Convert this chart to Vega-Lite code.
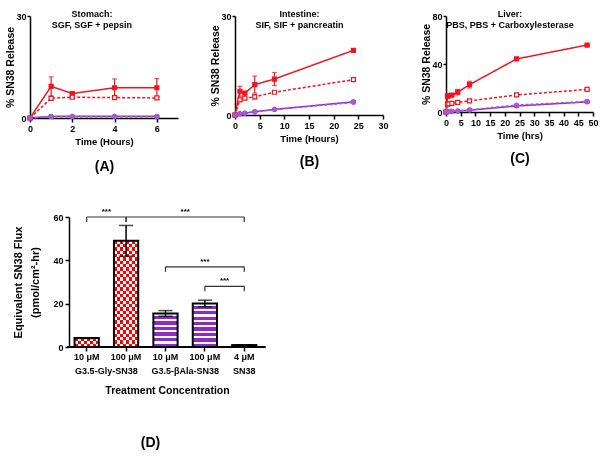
{
  "$schema": "https://vega.github.io/schema/vega-lite/v6.json",
  "background": "white",
  "padding": {"left": 5, "top": 10, "right": 2, "bottom": 2},
  "datasets": {
    "stomach": [
      {"time": 0, "series": "Gly-SN38 + enzyme", "release": 0, "sd": 0},
      {"time": 1, "series": "Gly-SN38 + enzyme", "release": 9.3, "sd": 2.8},
      {"time": 2, "series": "Gly-SN38 + enzyme", "release": 7.2, "sd": 0.4},
      {"time": 4, "series": "Gly-SN38 + enzyme", "release": 8.9, "sd": 2.6},
      {"time": 6, "series": "Gly-SN38 + enzyme", "release": 8.9, "sd": 2.7},
      {"time": 0, "series": "Gly-SN38", "release": 0, "sd": 0},
      {"time": 1, "series": "Gly-SN38", "release": 5.8, "sd": 0.4},
      {"time": 2, "series": "Gly-SN38", "release": 6.1, "sd": 0.3},
      {"time": 4, "series": "Gly-SN38", "release": 6.0, "sd": 0.3},
      {"time": 6, "series": "Gly-SN38", "release": 5.9, "sd": 0.4},
      {"time": 0, "series": "βAla-SN38 + enzyme", "release": 0, "sd": 0},
      {"time": 1, "series": "βAla-SN38 + enzyme", "release": 0.5, "sd": 0.1},
      {"time": 2, "series": "βAla-SN38 + enzyme", "release": 0.5, "sd": 0.1},
      {"time": 4, "series": "βAla-SN38 + enzyme", "release": 0.5, "sd": 0.1},
      {"time": 6, "series": "βAla-SN38 + enzyme", "release": 0.5, "sd": 0.1},
      {"time": 0, "series": "βAla-SN38", "release": 0, "sd": 0},
      {"time": 1, "series": "βAla-SN38", "release": 0.4, "sd": 0.1},
      {"time": 2, "series": "βAla-SN38", "release": 0.4, "sd": 0.1},
      {"time": 4, "series": "βAla-SN38", "release": 0.4, "sd": 0.1},
      {"time": 6, "series": "βAla-SN38", "release": 0.4, "sd": 0.1}
    ],
    "intestine": [
      {"time": 0, "series": "Gly-SN38 + enzyme", "release": 0, "sd": 0},
      {"time": 1, "series": "Gly-SN38 + enzyme", "release": 7.2, "sd": 1.5},
      {"time": 2, "series": "Gly-SN38 + enzyme", "release": 6.6, "sd": 0.4},
      {"time": 4, "series": "Gly-SN38 + enzyme", "release": 9.2, "sd": 2.6},
      {"time": 8, "series": "Gly-SN38 + enzyme", "release": 10.9, "sd": 2.0},
      {"time": 24, "series": "Gly-SN38 + enzyme", "release": 19.6, "sd": 0.3},
      {"time": 0, "series": "Gly-SN38", "release": 0, "sd": 0},
      {"time": 1, "series": "Gly-SN38", "release": 4.6, "sd": 0.5},
      {"time": 2, "series": "Gly-SN38", "release": 5.1, "sd": 0.3},
      {"time": 4, "series": "Gly-SN38", "release": 5.5, "sd": 0.6},
      {"time": 8, "series": "Gly-SN38", "release": 6.9, "sd": 0.3},
      {"time": 24, "series": "Gly-SN38", "release": 10.7, "sd": 0.4},
      {"time": 0, "series": "βAla-SN38 + enzyme", "release": 0, "sd": 0},
      {"time": 1, "series": "βAla-SN38 + enzyme", "release": 0.4, "sd": 0.1},
      {"time": 2, "series": "βAla-SN38 + enzyme", "release": 0.6, "sd": 0.1},
      {"time": 4, "series": "βAla-SN38 + enzyme", "release": 1.0, "sd": 0.2},
      {"time": 8, "series": "βAla-SN38 + enzyme", "release": 1.7, "sd": 0.2},
      {"time": 24, "series": "βAla-SN38 + enzyme", "release": 4.0, "sd": 0.4},
      {"time": 0, "series": "βAla-SN38", "release": 0, "sd": 0},
      {"time": 1, "series": "βAla-SN38", "release": 0.3, "sd": 0.1},
      {"time": 2, "series": "βAla-SN38", "release": 0.5, "sd": 0.1},
      {"time": 4, "series": "βAla-SN38", "release": 0.9, "sd": 0.1},
      {"time": 8, "series": "βAla-SN38", "release": 1.6, "sd": 0.2},
      {"time": 24, "series": "βAla-SN38", "release": 3.8, "sd": 0.3}
    ],
    "liver": [
      {"time": 0, "series": "Gly-SN38 + enzyme", "release": 0, "sd": 0},
      {"time": 0.5, "series": "Gly-SN38 + enzyme", "release": 13.2, "sd": 0.5},
      {"time": 1, "series": "Gly-SN38 + enzyme", "release": 13.5, "sd": 0.5},
      {"time": 2, "series": "Gly-SN38 + enzyme", "release": 14.0, "sd": 0.5},
      {"time": 4, "series": "Gly-SN38 + enzyme", "release": 16.5, "sd": 2.2},
      {"time": 8, "series": "Gly-SN38 + enzyme", "release": 22.8, "sd": 2.8},
      {"time": 24, "series": "Gly-SN38 + enzyme", "release": 44.2, "sd": 0.6},
      {"time": 48, "series": "Gly-SN38 + enzyme", "release": 55.8, "sd": 0.6},
      {"time": 0, "series": "Gly-SN38", "release": 0, "sd": 0},
      {"time": 0.5, "series": "Gly-SN38", "release": 6.5, "sd": 1.2},
      {"time": 1, "series": "Gly-SN38", "release": 6.8, "sd": 1.0},
      {"time": 2, "series": "Gly-SN38", "release": 7.2, "sd": 0.5},
      {"time": 4, "series": "Gly-SN38", "release": 8.0, "sd": 0.5},
      {"time": 8, "series": "Gly-SN38", "release": 9.2, "sd": 0.6},
      {"time": 24, "series": "Gly-SN38", "release": 14.2, "sd": 0.6},
      {"time": 48, "series": "Gly-SN38", "release": 18.8, "sd": 0.6},
      {"time": 0, "series": "βAla-SN38 + enzyme", "release": 0, "sd": 0},
      {"time": 0.5, "series": "βAla-SN38 + enzyme", "release": 0.2, "sd": 0},
      {"time": 1, "series": "βAla-SN38 + enzyme", "release": 0.3, "sd": 0},
      {"time": 2, "series": "βAla-SN38 + enzyme", "release": 0.5, "sd": 0},
      {"time": 4, "series": "βAla-SN38 + enzyme", "release": 0.8, "sd": 0.1},
      {"time": 8, "series": "βAla-SN38 + enzyme", "release": 1.5, "sd": 0.2},
      {"time": 24, "series": "βAla-SN38 + enzyme", "release": 5.0, "sd": 0.8},
      {"time": 48, "series": "βAla-SN38 + enzyme", "release": 8.4, "sd": 0.8},
      {"time": 0, "series": "βAla-SN38", "release": 0, "sd": 0},
      {"time": 0.5, "series": "βAla-SN38", "release": 0.3, "sd": 0},
      {"time": 1, "series": "βAla-SN38", "release": 0.4, "sd": 0},
      {"time": 2, "series": "βAla-SN38", "release": 0.6, "sd": 0},
      {"time": 4, "series": "βAla-SN38", "release": 1.0, "sd": 0.1},
      {"time": 8, "series": "βAla-SN38", "release": 1.8, "sd": 0.2},
      {"time": 24, "series": "βAla-SN38", "release": 5.8, "sd": 0.5},
      {"time": 48, "series": "βAla-SN38", "release": 8.8, "sd": 0.5}
    ],
    "flux": [
      {"treatment": "G3.5-Gly-SN38 10 μM", "flux": 4.1, "err": 0.15},
      {"treatment": "G3.5-Gly-SN38 100 μM", "flux": 49.0, "err": 7.1},
      {"treatment": "G3.5-βAla-SN38 10 μM", "flux": 15.5, "err": 1.3},
      {"treatment": "G3.5-βAla-SN38 100 μM", "flux": 20.1, "err": 1.5},
      {"treatment": "SN38 4 μM", "flux": 0.9, "err": 0.1}
    ],
    "sig": [
      {"from": "G3.5-Gly-SN38 10 μM", "to": "G3.5-Gly-SN38 100 μM", "level": 60, "label": "***"},
      {"from": "G3.5-Gly-SN38 100 μM", "to": "SN38 4 μM", "level": 60, "label": "***"},
      {"from": "G3.5-βAla-SN38 10 μM", "to": "SN38 4 μM", "level": 37, "label": "***"},
      {"from": "G3.5-βAla-SN38 100 μM", "to": "SN38 4 μM", "level": 28, "label": "***"}
    ]
  },
  "vconcat": [
    {
      "hconcat": [
        {
          "width": 148, "height": 102,
          "data": {"name": "stomach"},
          "title": {"text": ["Stomach:", "SGF, SGF + pepsin"]},
          "layer": [
            {
              "mark": {"type": "line", "strokeWidth": 1.5},
              "encoding": {
                "x": {"field": "time", "type": "quantitative", "scale": {"domain": [0, 7]}, "axis": {"title": "Time (Hours)", "values": [0, 2, 4, 6]}},
                "y": {"field": "release", "type": "quantitative", "scale": {"domain": [0, 30]}, "axis": {"title": "% SN38 Release", "values": [0, 10, 20, 30], "tickSize": 3, "labelPadding": 1, "titlePadding": 0}},
                "color": {"field": "series", "type": "nominal", "scale": {"domain": ["Gly-SN38 + enzyme", "Gly-SN38", "βAla-SN38 + enzyme", "βAla-SN38"], "range": ["#F0141E", "#F0141E", "#8E2BC2", "#A65AD6"]}, "legend": null},
                "strokeDash": {"field": "series", "type": "nominal", "scale": {"domain": ["Gly-SN38 + enzyme", "Gly-SN38", "βAla-SN38 + enzyme", "βAla-SN38"], "range": [[1, 0], [3, 2], [1, 0], [3, 2]]}, "legend": null}
              }
            },
            {
              "transform": [{"filter": "datum.sd > 0"}],
              "mark": {"type": "errorbar", "ticks": {"size": 5}, "thickness": 1.2},
              "encoding": {
                "x": {"field": "time", "type": "quantitative", "scale": {"domain": [0, 7]}, "axis": null},
                "y": {"field": "release", "type": "quantitative", "scale": {"domain": [0, 30]}, "title": "% SN38 Release"},
                "yError": {"field": "sd"},
                "color": {"field": "series", "type": "nominal", "legend": null}
              }
            },
            {
              "mark": {"type": "point", "size": 16, "opacity": 1, "strokeWidth": 1.2},
              "encoding": {
                "x": {"field": "time", "type": "quantitative", "scale": {"domain": [0, 7]}, "axis": {"orient": "bottom", "title": "(A)", "labels": false, "ticks": false, "domain": false, "titleFontSize": 14, "titlePadding": 41}},
                "y": {"field": "release", "type": "quantitative", "scale": {"domain": [0, 30]}, "title": "% SN38 Release"},
                "shape": {"field": "series", "type": "nominal", "scale": {"domain": ["Gly-SN38 + enzyme", "Gly-SN38", "βAla-SN38 + enzyme", "βAla-SN38"], "range": ["square", "square", "circle", "circle"]}, "legend": null},
                "fill": {"field": "series", "type": "nominal", "scale": {"domain": ["Gly-SN38 + enzyme", "Gly-SN38", "βAla-SN38 + enzyme", "βAla-SN38"], "range": ["#F0141E", "#ffffff", "#8E2BC2", "#A65AD6"]}, "legend": null},
                "stroke": {"field": "series", "type": "nominal", "scale": {"domain": ["Gly-SN38 + enzyme", "Gly-SN38", "βAla-SN38 + enzyme", "βAla-SN38"], "range": ["#F0141E", "#F0141E", "#8E2BC2", "#A65AD6"]}, "legend": null}
              }
            }
          ],
          "resolve": {"axis": {"x": "independent"}}
        },
        {
          "width": 148, "height": 99,
          "data": {"name": "intestine"},
          "title": {"text": ["Intestine:", "SIF, SIF + pancreatin"]},
          "layer": [
            {
              "mark": {"type": "line", "strokeWidth": 1.5},
              "encoding": {
                "x": {"field": "time", "type": "quantitative", "scale": {"domain": [0, 30]}, "axis": {"title": "Time (Hours)", "values": [0, 5, 10, 15, 20, 25, 30]}},
                "y": {"field": "release", "type": "quantitative", "scale": {"domain": [0, 30]}, "axis": {"title": "% SN38 Release", "values": [0, 10, 20, 30], "tickSize": 3, "labelPadding": 1, "titlePadding": 0}},
                "color": {"field": "series", "type": "nominal", "scale": {"domain": ["Gly-SN38 + enzyme", "Gly-SN38", "βAla-SN38 + enzyme", "βAla-SN38"], "range": ["#F0141E", "#F0141E", "#8E2BC2", "#A65AD6"]}, "legend": null},
                "strokeDash": {"field": "series", "type": "nominal", "scale": {"domain": ["Gly-SN38 + enzyme", "Gly-SN38", "βAla-SN38 + enzyme", "βAla-SN38"], "range": [[1, 0], [3, 2], [1, 0], [3, 2]]}, "legend": null}
              }
            },
            {
              "transform": [{"filter": "datum.sd > 0"}],
              "mark": {"type": "errorbar", "ticks": {"size": 5}, "thickness": 1.2},
              "encoding": {
                "x": {"field": "time", "type": "quantitative", "scale": {"domain": [0, 30]}, "axis": null},
                "y": {"field": "release", "type": "quantitative", "scale": {"domain": [0, 30]}, "title": "% SN38 Release"},
                "yError": {"field": "sd"},
                "color": {"field": "series", "type": "nominal", "legend": null}
              }
            },
            {
              "mark": {"type": "point", "size": 16, "opacity": 1, "strokeWidth": 1.2},
              "encoding": {
                "x": {"field": "time", "type": "quantitative", "scale": {"domain": [0, 30]}, "axis": {"orient": "bottom", "title": "(B)", "labels": false, "ticks": false, "domain": false, "titleFontSize": 14, "titlePadding": 39}},
                "y": {"field": "release", "type": "quantitative", "scale": {"domain": [0, 30]}, "title": "% SN38 Release"},
                "shape": {"field": "series", "type": "nominal", "scale": {"domain": ["Gly-SN38 + enzyme", "Gly-SN38", "βAla-SN38 + enzyme", "βAla-SN38"], "range": ["square", "square", "circle", "circle"]}, "legend": null},
                "fill": {"field": "series", "type": "nominal", "scale": {"domain": ["Gly-SN38 + enzyme", "Gly-SN38", "βAla-SN38 + enzyme", "βAla-SN38"], "range": ["#F0141E", "#ffffff", "#8E2BC2", "#A65AD6"]}, "legend": null},
                "stroke": {"field": "series", "type": "nominal", "scale": {"domain": ["Gly-SN38 + enzyme", "Gly-SN38", "βAla-SN38 + enzyme", "βAla-SN38"], "range": ["#F0141E", "#F0141E", "#8E2BC2", "#A65AD6"]}, "legend": null}
              }
            }
          ],
          "resolve": {"axis": {"x": "independent"}}
        },
        {
          "width": 147, "height": 96,
          "data": {"name": "liver"},
          "title": {"text": ["Liver:", "PBS, PBS + Carboxylesterase"]},
          "layer": [
            {
              "mark": {"type": "line", "strokeWidth": 1.5},
              "encoding": {
                "x": {"field": "time", "type": "quantitative", "scale": {"domain": [0, 50]}, "axis": {"title": "Time (hrs)", "values": [0, 5, 10, 15, 20, 25, 30, 35, 40, 45, 50]}},
                "y": {"field": "release", "type": "quantitative", "scale": {"domain": [0, 80]}, "axis": {"title": "% SN38 Release", "values": [0, 20, 40, 60, 80], "tickSize": 3, "labelPadding": 1, "titlePadding": 0}},
                "color": {"field": "series", "type": "nominal", "scale": {"domain": ["Gly-SN38 + enzyme", "Gly-SN38", "βAla-SN38 + enzyme", "βAla-SN38"], "range": ["#F0141E", "#F0141E", "#8E2BC2", "#A65AD6"]}, "legend": null},
                "strokeDash": {"field": "series", "type": "nominal", "scale": {"domain": ["Gly-SN38 + enzyme", "Gly-SN38", "βAla-SN38 + enzyme", "βAla-SN38"], "range": [[1, 0], [3, 2], [1, 0], [3, 2]]}, "legend": null}
              }
            },
            {
              "transform": [{"filter": "datum.sd > 0"}],
              "mark": {"type": "errorbar", "ticks": {"size": 5}, "thickness": 1.2},
              "encoding": {
                "x": {"field": "time", "type": "quantitative", "scale": {"domain": [0, 50]}, "axis": null},
                "y": {"field": "release", "type": "quantitative", "scale": {"domain": [0, 80]}, "title": "% SN38 Release"},
                "yError": {"field": "sd"},
                "color": {"field": "series", "type": "nominal", "legend": null}
              }
            },
            {
              "mark": {"type": "point", "size": 16, "opacity": 1, "strokeWidth": 1.2},
              "encoding": {
                "x": {"field": "time", "type": "quantitative", "scale": {"domain": [0, 50]}, "axis": {"orient": "bottom", "title": "(C)", "labels": false, "ticks": false, "domain": false, "titleFontSize": 14, "titlePadding": 39}},
                "y": {"field": "release", "type": "quantitative", "scale": {"domain": [0, 80]}, "title": "% SN38 Release"},
                "shape": {"field": "series", "type": "nominal", "scale": {"domain": ["Gly-SN38 + enzyme", "Gly-SN38", "βAla-SN38 + enzyme", "βAla-SN38"], "range": ["square", "square", "circle", "circle"]}, "legend": null},
                "fill": {"field": "series", "type": "nominal", "scale": {"domain": ["Gly-SN38 + enzyme", "Gly-SN38", "βAla-SN38 + enzyme", "βAla-SN38"], "range": ["#F0141E", "#ffffff", "#8E2BC2", "#A65AD6"]}, "legend": null},
                "stroke": {"field": "series", "type": "nominal", "scale": {"domain": ["Gly-SN38 + enzyme", "Gly-SN38", "βAla-SN38 + enzyme", "βAla-SN38"], "range": ["#F0141E", "#F0141E", "#8E2BC2", "#A65AD6"]}, "legend": null}
              }
            }
          ],
          "resolve": {"axis": {"x": "independent"}}
        }
      ],
      "spacing": 32,
      "align": "none",
      "bounds": "full"
    },
    {
      "width": 235, "height": 130,
      "data": {"name": "flux"},
      "layer": [
        {
          "mark": {"type": "bar"},
          "encoding": {
            "x": {"field": "treatment", "type": "nominal", "sort": null, "scale": {"domain": ["G3.5-Gly-SN38 10 μM", "G3.5-Gly-SN38 100 μM", "G3.5-βAla-SN38 10 μM", "G3.5-βAla-SN38 100 μM", "SN38 4 μM"], "paddingInner": 0.385, "paddingOuter": 0.675, "align": 0.838}, "axis": {"title": null, "labelAngle": 0, "domain": false, "labelExpr": "slice(datum.value, indexof(datum.value, ' ') + 1)", "labelPadding": 1}},
            "y": {"field": "flux", "type": "quantitative", "scale": {"domain": [0, 60]}, "axis": {"title": ["Equivalent SN38 Flux", "(pmol/cm²-hr)"], "values": [0, 10, 20, 30, 40, 50, 60], "offset": -39, "titlePadding": 12, "titleLineHeight": 17, "titleFontSize": 11}},
            "fill": {
              "condition": [
                {"test": "datum.treatment === 'G3.5-Gly-SN38 10 μM'", "value": {"gradient": "linear", "x1": 0, "y1": 0, "x2": 0, "y2": 1, "stops": [
                  {"offset": 0, "color": "#ff0000"}, {"offset": 0.3333, "color": "#ff0000"},
                  {"offset": 0.3333, "color": "#ffffff"}, {"offset": 0.6667, "color": "#ffffff"},
                  {"offset": 0.6667, "color": "#ff0000"}, {"offset": 1, "color": "#ff0000"}]}},
                {"test": "datum.treatment === 'G3.5-Gly-SN38 100 μM'", "value": {"gradient": "linear", "x1": 0, "y1": 0, "x2": 0, "y2": 1, "stops": [
                  {"offset": 0, "color": "#ff0000"}, {"offset": 0.03125, "color": "#ff0000"},
                  {"offset": 0.03125, "color": "#ffffff"}, {"offset": 0.0625, "color": "#ffffff"},
                  {"offset": 0.0625, "color": "#ff0000"}, {"offset": 0.09375, "color": "#ff0000"},
                  {"offset": 0.09375, "color": "#ffffff"}, {"offset": 0.125, "color": "#ffffff"},
                  {"offset": 0.125, "color": "#ff0000"}, {"offset": 0.15625, "color": "#ff0000"},
                  {"offset": 0.15625, "color": "#ffffff"}, {"offset": 0.1875, "color": "#ffffff"},
                  {"offset": 0.1875, "color": "#ff0000"}, {"offset": 0.21875, "color": "#ff0000"},
                  {"offset": 0.21875, "color": "#ffffff"}, {"offset": 0.25, "color": "#ffffff"},
                  {"offset": 0.25, "color": "#ff0000"}, {"offset": 0.28125, "color": "#ff0000"},
                  {"offset": 0.28125, "color": "#ffffff"}, {"offset": 0.3125, "color": "#ffffff"},
                  {"offset": 0.3125, "color": "#ff0000"}, {"offset": 0.34375, "color": "#ff0000"},
                  {"offset": 0.34375, "color": "#ffffff"}, {"offset": 0.375, "color": "#ffffff"},
                  {"offset": 0.375, "color": "#ff0000"}, {"offset": 0.40625, "color": "#ff0000"},
                  {"offset": 0.40625, "color": "#ffffff"}, {"offset": 0.4375, "color": "#ffffff"},
                  {"offset": 0.4375, "color": "#ff0000"}, {"offset": 0.46875, "color": "#ff0000"},
                  {"offset": 0.46875, "color": "#ffffff"}, {"offset": 0.5, "color": "#ffffff"},
                  {"offset": 0.5, "color": "#ff0000"}, {"offset": 0.53125, "color": "#ff0000"},
                  {"offset": 0.53125, "color": "#ffffff"}, {"offset": 0.5625, "color": "#ffffff"},
                  {"offset": 0.5625, "color": "#ff0000"}, {"offset": 0.59375, "color": "#ff0000"},
                  {"offset": 0.59375, "color": "#ffffff"}, {"offset": 0.625, "color": "#ffffff"},
                  {"offset": 0.625, "color": "#ff0000"}, {"offset": 0.65625, "color": "#ff0000"},
                  {"offset": 0.65625, "color": "#ffffff"}, {"offset": 0.6875, "color": "#ffffff"},
                  {"offset": 0.6875, "color": "#ff0000"}, {"offset": 0.71875, "color": "#ff0000"},
                  {"offset": 0.71875, "color": "#ffffff"}, {"offset": 0.75, "color": "#ffffff"},
                  {"offset": 0.75, "color": "#ff0000"}, {"offset": 0.78125, "color": "#ff0000"},
                  {"offset": 0.78125, "color": "#ffffff"}, {"offset": 0.8125, "color": "#ffffff"},
                  {"offset": 0.8125, "color": "#ff0000"}, {"offset": 0.84375, "color": "#ff0000"},
                  {"offset": 0.84375, "color": "#ffffff"}, {"offset": 0.875, "color": "#ffffff"},
                  {"offset": 0.875, "color": "#ff0000"}, {"offset": 0.90625, "color": "#ff0000"},
                  {"offset": 0.90625, "color": "#ffffff"}, {"offset": 0.9375, "color": "#ffffff"},
                  {"offset": 0.9375, "color": "#ff0000"}, {"offset": 0.96875, "color": "#ff0000"},
                  {"offset": 0.96875, "color": "#ffffff"}, {"offset": 1, "color": "#ffffff"}]}},
                {"test": "datum.treatment === 'G3.5-βAla-SN38 10 μM'", "value": {"gradient": "linear", "x1": 0, "y1": 0, "x2": 0, "y2": 1, "stops": [
                  {"offset": 0, "color": "#ffffff"}, {"offset": 0.0667, "color": "#ffffff"},
                  {"offset": 0.0667, "color": "#8E2BC2"}, {"offset": 0.1667, "color": "#8E2BC2"},
                  {"offset": 0.1667, "color": "#ffffff"}, {"offset": 0.2333, "color": "#ffffff"},
                  {"offset": 0.2333, "color": "#8E2BC2"}, {"offset": 0.3333, "color": "#8E2BC2"},
                  {"offset": 0.3333, "color": "#ffffff"}, {"offset": 0.4, "color": "#ffffff"},
                  {"offset": 0.4, "color": "#8E2BC2"}, {"offset": 0.5, "color": "#8E2BC2"},
                  {"offset": 0.5, "color": "#ffffff"}, {"offset": 0.5667, "color": "#ffffff"},
                  {"offset": 0.5667, "color": "#8E2BC2"}, {"offset": 0.6667, "color": "#8E2BC2"},
                  {"offset": 0.6667, "color": "#ffffff"}, {"offset": 0.7333, "color": "#ffffff"},
                  {"offset": 0.7333, "color": "#8E2BC2"}, {"offset": 0.8333, "color": "#8E2BC2"},
                  {"offset": 0.8333, "color": "#ffffff"}, {"offset": 0.9, "color": "#ffffff"},
                  {"offset": 0.9, "color": "#8E2BC2"}, {"offset": 1, "color": "#8E2BC2"}]}},
                {"test": "datum.treatment === 'G3.5-βAla-SN38 100 μM'", "value": {"gradient": "linear", "x1": 0, "y1": 0, "x2": 0, "y2": 1, "stops": [
                  {"offset": 0, "color": "#ffffff"}, {"offset": 0.05, "color": "#ffffff"},
                  {"offset": 0.05, "color": "#8E2BC2"}, {"offset": 0.125, "color": "#8E2BC2"},
                  {"offset": 0.125, "color": "#ffffff"}, {"offset": 0.175, "color": "#ffffff"},
                  {"offset": 0.175, "color": "#8E2BC2"}, {"offset": 0.25, "color": "#8E2BC2"},
                  {"offset": 0.25, "color": "#ffffff"}, {"offset": 0.3, "color": "#ffffff"},
                  {"offset": 0.3, "color": "#8E2BC2"}, {"offset": 0.375, "color": "#8E2BC2"},
                  {"offset": 0.375, "color": "#ffffff"}, {"offset": 0.425, "color": "#ffffff"},
                  {"offset": 0.425, "color": "#8E2BC2"}, {"offset": 0.5, "color": "#8E2BC2"},
                  {"offset": 0.5, "color": "#ffffff"}, {"offset": 0.55, "color": "#ffffff"},
                  {"offset": 0.55, "color": "#8E2BC2"}, {"offset": 0.625, "color": "#8E2BC2"},
                  {"offset": 0.625, "color": "#ffffff"}, {"offset": 0.675, "color": "#ffffff"},
                  {"offset": 0.675, "color": "#8E2BC2"}, {"offset": 0.75, "color": "#8E2BC2"},
                  {"offset": 0.75, "color": "#ffffff"}, {"offset": 0.8, "color": "#ffffff"},
                  {"offset": 0.8, "color": "#8E2BC2"}, {"offset": 0.875, "color": "#8E2BC2"},
                  {"offset": 0.875, "color": "#ffffff"}, {"offset": 0.925, "color": "#ffffff"},
                  {"offset": 0.925, "color": "#8E2BC2"}, {"offset": 1, "color": "#8E2BC2"}]}}
              ],
              "value": "#000000"
            }
          }
        },
        {
          "transform": [{"filter": "indexof(datum.treatment, 'Gly') >= 0"}],
          "mark": {"type": "bar", "blend": "difference", "fill": {"gradient": "linear", "x1": 0, "y1": 0, "x2": 1, "y2": 0, "stops": [
            {"offset": 0, "color": "#000000"}, {"offset": 0.125, "color": "#000000"},
            {"offset": 0.125, "color": "#00ffff"}, {"offset": 0.25, "color": "#00ffff"},
            {"offset": 0.25, "color": "#000000"}, {"offset": 0.375, "color": "#000000"},
            {"offset": 0.375, "color": "#00ffff"}, {"offset": 0.5, "color": "#00ffff"},
            {"offset": 0.5, "color": "#000000"}, {"offset": 0.625, "color": "#000000"},
            {"offset": 0.625, "color": "#00ffff"}, {"offset": 0.75, "color": "#00ffff"},
            {"offset": 0.75, "color": "#000000"}, {"offset": 0.875, "color": "#000000"},
            {"offset": 0.875, "color": "#00ffff"}, {"offset": 1, "color": "#00ffff"}]}},
          "encoding": {
            "x": {"field": "treatment", "type": "nominal", "sort": null, "axis": null},
            "y": {"field": "flux", "type": "quantitative", "title": ["Equivalent SN38 Flux", "(pmol/cm²-hr)"]}
          }
        },
        {
          "mark": {"type": "bar", "fill": "transparent", "stroke": "#000000", "strokeWidth": 2},
          "encoding": {
            "x": {"field": "treatment", "type": "nominal", "sort": null, "axis": {"orient": "bottom", "title": "Treatment Concentration", "titleX": 137, "labelAngle": 0, "domain": false, "ticks": false, "labelPadding": 19.5, "titlePadding": 9.5, "titleFontSize": 10.5,
              "labelExpr": "datum.value === 'G3.5-Gly-SN38 10 μM' ? 'G3.5-Gly-SN38' : datum.value === 'G3.5-βAla-SN38 10 μM' ? 'G3.5-βAla-SN38' : datum.value === 'SN38 4 μM' ? 'SN38' : ''",
              "labelOffset": {"condition": {"test": "datum.value === 'G3.5-Gly-SN38 10 μM' || datum.value === 'G3.5-βAla-SN38 10 μM'", "value": 19.7}, "value": 0}}},
            "y": {"field": "flux", "type": "quantitative", "title": ["Equivalent SN38 Flux", "(pmol/cm²-hr)"]}
          }
        },
        {
          "mark": {"type": "rule", "color": "#000000", "strokeWidth": 1.5},
          "encoding": {
            "x": {"datum": "G3.5-Gly-SN38 10 μM", "type": "nominal", "bandPosition": -0.285, "axis": null},
            "x2": {"datum": "SN38 4 μM", "bandPosition": 1.368},
            "y": {"datum": 0, "type": "quantitative", "title": ["Equivalent SN38 Flux", "(pmol/cm²-hr)"]}
          }
        },
        {
          "mark": {"type": "errorbar", "ticks": {"size": 14}, "color": "#000000", "thickness": 1.5},
          "encoding": {
            "x": {"field": "treatment", "type": "nominal", "sort": null, "axis": null},
            "y": {"field": "flux", "type": "quantitative", "title": ["Equivalent SN38 Flux", "(pmol/cm²-hr)"]},
            "yError": {"field": "err"}
          }
        },
        {
          "data": {"name": "sig"},
          "mark": {"type": "rule", "color": "#333333", "strokeWidth": 1.2},
          "encoding": {
            "x": {"field": "from", "type": "nominal", "bandPosition": 0.5, "axis": {"orient": "bottom", "title": "(D)", "labels": false, "ticks": false, "domain": false, "titleFontSize": 14, "titlePadding": 88, "titleX": 120}},
            "x2": {"field": "to", "bandPosition": 0.5},
            "y": {"field": "level", "type": "quantitative", "title": ["Equivalent SN38 Flux", "(pmol/cm²-hr)"]}
          }
        },
        {
          "data": {"name": "sig"},
          "transform": [{"fold": ["from", "to"], "as": ["end", "bx"]}],
          "mark": {"type": "rule", "color": "#333333", "strokeWidth": 1.2, "y2Offset": 5},
          "encoding": {
            "x": {"field": "bx", "type": "nominal", "axis": null},
            "y": {"field": "level", "type": "quantitative", "title": ["Equivalent SN38 Flux", "(pmol/cm²-hr)"]},
            "y2": {"field": "level"}
          }
        },
        {
          "data": {"name": "sig"},
          "transform": [{"filter": "datum.to === 'G3.5-Gly-SN38 100 μM' || datum.from === 'G3.5-βAla-SN38 100 μM'"}],
          "mark": {"type": "text", "baseline": "bottom", "dy": -1, "fontSize": 8, "fontWeight": "bold", "font": "Liberation Sans"},
          "encoding": {
            "x": {"field": "to", "type": "nominal", "bandPosition": -0.314, "axis": null},
            "y": {"field": "level", "type": "quantitative", "title": ["Equivalent SN38 Flux", "(pmol/cm²-hr)"]},
            "text": {"field": "label"}
          }
        },
        {
          "data": {"name": "sig"},
          "transform": [{"filter": "datum.from === 'G3.5-Gly-SN38 100 μM'"}],
          "mark": {"type": "text", "baseline": "bottom", "dy": -1, "fontSize": 8, "fontWeight": "bold", "font": "Liberation Sans"},
          "encoding": {
            "x": {"field": "from", "type": "nominal", "bandPosition": 2.942, "axis": null},
            "y": {"field": "level", "type": "quantitative", "title": ["Equivalent SN38 Flux", "(pmol/cm²-hr)"]},
            "text": {"field": "label"}
          }
        },
        {
          "data": {"name": "sig"},
          "transform": [{"filter": "datum.from === 'G3.5-βAla-SN38 10 μM'"}],
          "mark": {"type": "text", "baseline": "bottom", "dy": -1, "fontSize": 8, "fontWeight": "bold", "font": "Liberation Sans"},
          "encoding": {
            "x": {"field": "from", "type": "nominal", "bandPosition": 2.128, "axis": null},
            "y": {"field": "level", "type": "quantitative", "title": ["Equivalent SN38 Flux", "(pmol/cm²-hr)"]},
            "text": {"field": "label"}
          }
        }
      ],
      "resolve": {"axis": {"x": "independent"}}
    }
  ],
  "spacing": 35,
  "align": "none",
  "center": false,
  "config": {
    "view": {"stroke": null},
    "font": "Liberation Sans",
    "axis": {"domainColor": "#000000", "domainWidth": 1.5, "tickColor": "#000000", "tickWidth": 1.5, "tickSize": 4, "labelColor": "#000000", "labelFontWeight": "bold", "labelFontSize": 9, "labelFont": "Liberation Sans", "labelFlush": false, "labelPadding": 2, "titleFont": "Liberation Sans", "titleFontWeight": "bold", "titleColor": "#000000", "titleFontSize": 10.5, "titlePadding": 2, "grid": false},
    "axisX": {"titleFontSize": 9.5, "titlePadding": 3},
    "title": {"font": "Liberation Sans", "fontSize": 9, "fontWeight": "bold", "color": "#000000", "offset": -18, "lineHeight": 11, "anchor": "middle", "frame": "bounds"}
  }
}
